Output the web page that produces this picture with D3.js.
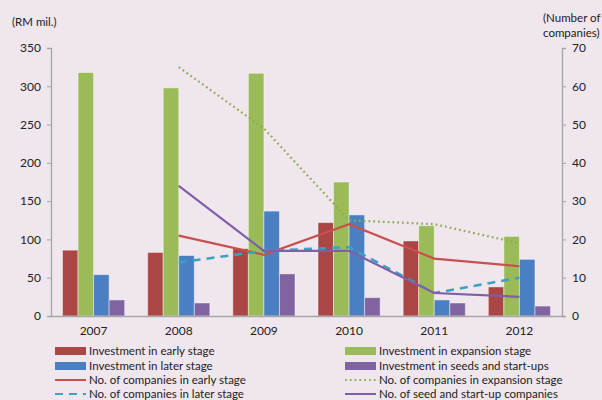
<!DOCTYPE html>
<html><head><meta charset="utf-8">
<script src="https://cdn.jsdelivr.net/npm/d3@7"></script>
<style>body{margin:0;background:#efe6ee;}svg{display:block;font-family:Lato,"Open Sans",sans-serif;}</style>
</head><body>
<svg id="c" width="602" height="400"></svg>
<script>
const years = ["2007","2008","2009","2010","2011","2012"];
const invEarly = [86, 83, 88, 122, 98, 38];
const invExpansion = [318, 298, 317, 175, 118, 104];
const invLater = [54, 79, 137, 132, 21, 74];
const invSeed = [21, 17, 55, 24, 17, 13];
const lineYears = ["2008","2009","2010","2011","2012"];
const cntEarly = [21, 16, 24, 15, 13];
const cntExpansion = [65, 49, 25, 24, 19];
const cntLater = [14, 17, 18, 6, 10];
const cntSeed = [34, 17, 17, 6, 5];
const leftTicks = [0,50,100,150,200,250,300,350];
const rightTicks = [0,10,20,30,40,50,60,70];

const svg = d3.select("#c");
const L = 51, R = 562, T = 48, B = 316;
const x = d3.scaleBand().domain(years).range([L, R]).paddingInner(0.27).paddingOuter(0.135);
const yL = d3.scaleLinear().domain([0,350]).range([B, T]);
const yR = d3.scaleLinear().domain([0,70]).range([B, T]);

const barSeries = [
  {name:"Investment in early stage", vals:invEarly, color:"#aa4643"},
  {name:"Investment in expansion stage", vals:invExpansion, color:"#9bbb59"},
  {name:"Investment in later stage", vals:invLater, color:"#4a7fc1"},
  {name:"Investment in seeds and start-ups", vals:invSeed, color:"#8064a2"}
];
const xs = d3.scaleBand().domain(d3.range(4)).range([0, x.bandwidth()]);

barSeries.forEach((s, i) => {
  svg.append("g").selectAll("rect").data(s.vals).join("rect")
    .attr("x", (d, j) => x(years[j]) + xs(i))
    .attr("y", d => yL(d))
    .attr("width", xs.bandwidth())
    .attr("height", d => B - yL(d))
    .attr("fill", s.color)
    .attr("stroke", "rgba(255,255,255,0.45)")
    .attr("stroke-width", 1);
});

// axes
const axL = svg.append("g").attr("transform", `translate(${L},0)`)
  .call(d3.axisLeft(yL).tickValues(leftTicks).tickSize(4).tickPadding(6));
const axR = svg.append("g").attr("transform", `translate(${R},0)`)
  .call(d3.axisRight(yR).tickValues(rightTicks).tickSize(4).tickPadding(6));
const axB = svg.append("g").attr("transform", `translate(0,${B})`)
  .call(d3.axisBottom(x).tickSize(0).tickPadding(10));
[axL, axR, axB].forEach(a => {
  a.selectAll("path").attr("stroke", "#a6a6a6").attr("stroke-width", 1.3);
  a.selectAll("line").attr("stroke", "#a6a6a6");
  a.selectAll("text").attr("font-family", "Lato,'Open Sans',sans-serif").attr("font-size", 12).attr("fill", "#222");
});
axB.select("path").attr("d", `M${L},0.5H${R+3}`);

// lines
const cx = d => x(d) + x.bandwidth() / 2;
const lineSeries = [
  {name:"No. of companies in early stage", vals:cntEarly, color:"#c8504d", dash:null, w:2.2},
  {name:"No. of companies in expansion stage", vals:cntExpansion, color:"#8fae52", dash:"1.8,3", w:2.2},
  {name:"No. of companies in later stage", vals:cntLater, color:"#3ba2c2", dash:"8,6", w:2.5},
  {name:"No. of seed and start-up companies", vals:cntSeed, color:"#7f5fa6", dash:null, w:2.2}
];
lineSeries.forEach(s => {
  const line = d3.line().x((d, j) => cx(lineYears[j])).y(d => yR(d));
  svg.append("path").datum(s.vals).attr("d", line)
    .attr("fill", "none").attr("stroke", s.color).attr("stroke-width", s.w)
    .attr("stroke-dasharray", s.dash);
});

// axis titles
svg.append("text").attr("x", 12).attr("y", 26).attr("font-size", 11.5).attr("fill", "#222").text("(RM mil.)");
svg.append("text").attr("x", 543).attr("y", 22).attr("font-size", 11.5).attr("fill", "#222").text("(Number of");
svg.append("text").attr("x", 543).attr("y", 37).attr("font-size", 11.5).attr("fill", "#222").text("companies)");

// legend
const legend = [
  {s:barSeries[0], type:"bar", col:0, row:0},
  {s:barSeries[1], type:"bar", col:1, row:0},
  {s:barSeries[2], type:"bar", col:0, row:1},
  {s:barSeries[3], type:"bar", col:1, row:1},
  {s:lineSeries[0], type:"line", col:0, row:2},
  {s:lineSeries[1], type:"line", col:1, row:2},
  {s:lineSeries[2], type:"line", col:0, row:3},
  {s:lineSeries[3], type:"line", col:1, row:3}
];
const colX = [55, 345], rowY = [351, 366, 380, 394];
legend.forEach(e => {
  const gx = colX[e.col], gy = rowY[e.row];
  if (e.type === "bar") {
    svg.append("rect").attr("x", gx).attr("y", gy - 4).attr("width", 31).attr("height", 8).attr("fill", e.s.color);
  } else {
    svg.append("line").attr("x1", gx).attr("x2", gx + 31).attr("y1", gy).attr("y2", gy)
      .attr("stroke", e.s.color).attr("stroke-width", 2).attr("stroke-dasharray", e.s.dash);
  }
  svg.append("text").attr("x", gx + 34).attr("y", gy + 4).attr("font-size", 11.5).attr("fill", "#222").text(e.s.name);
});
</script>
</body></html>
